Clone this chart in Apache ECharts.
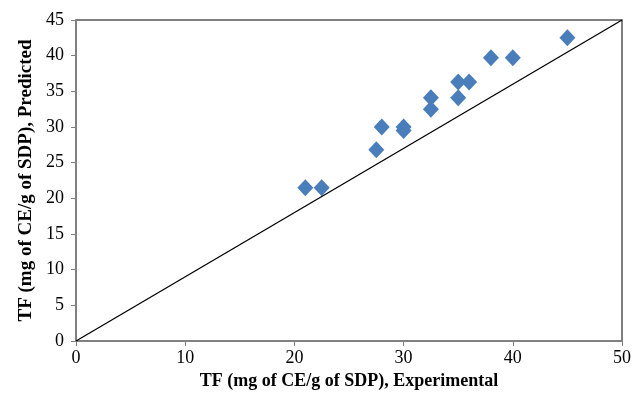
<!DOCTYPE html>
<html style="height: 100%">
   <head>
       <meta charset="utf-8">
   </head>
   <body style="height: 100%; margin: 0; background: #fff">
       <div id="container" style="width: 634px; height: 401px"></div>
       <script type="text/javascript" src="https://cdn.jsdelivr.net/npm/echarts@6/dist/echarts.min.js"></script>
       <script type="text/javascript">
          // experimental vs predicted TF
          var experimental = [21, 22.5, 27.5, 28, 30, 30, 32.5, 32.5, 35, 35, 36, 38, 40, 45];
          var predicted = [21.5, 21.5, 26.8, 30, 30, 29.5, 32.5, 34.1, 34.1, 36.3, 36.3, 39.7, 39.7, 42.5];
          var lineX = [0, 50];
          var lineY = [0, 45];

          var pts = [];
          for (var i = 0; i < experimental.length; i++) {
              pts.push([experimental[i], predicted[i]]);
          }
          var linePts = [[lineX[0], lineY[0]], [lineX[1], lineY[1]]];

          var dom = document.getElementById("container");
          var myChart = echarts.init(dom);
          var font = 'Liberation Serif';

          var option = {
              animation: false,
              grid: {
                  left: 76, right: 10, top: 20, bottom: 60,
                  show: true, borderColor: '#555', borderWidth: 1.5
              },
              xAxis: {
                  type: 'value',
                  min: 0, max: 50, interval: 10,
                  name: 'TF (mg of CE/g of SDP), Experimental',
                  nameLocation: 'middle',
                  nameGap: 29,
                  nameTextStyle: { fontFamily: font, fontWeight: 'bold', fontSize: 18, color: '#000' },
                  axisLine: { lineStyle: { color: '#808080', width: 2 } },
                  axisTick: { show: true, length: 5, lineStyle: { color: '#808080' } },
                  axisLabel: { fontFamily: font, fontSize: 18, color: '#000', margin: 8 },
                  splitLine: { show: false }
              },
              yAxis: {
                  type: 'value',
                  min: 0, max: 45, interval: 5,
                  name: 'TF (mg of CE/g of SDP), Predicted',
                  nameLocation: 'middle',
                  nameGap: 39,
                  nameTextStyle: { fontFamily: font, fontWeight: 'bold', fontSize: 19, color: '#000' },
                  axisLine: { show: true, lineStyle: { color: '#808080', width: 2 } },
                  axisTick: { show: true, length: 5, lineStyle: { color: '#808080' } },
                  axisLabel: { fontFamily: font, fontSize: 18, color: '#000', margin: 12 },
                  splitLine: { show: false }
              },
              series: [{
                  type: 'line',
                  data: linePts,
                  symbol: 'none',
                  lineStyle: { color: '#000', width: 1.3 },
                  silent: true
              }, {
                  type: 'scatter',
                  data: pts,
                  symbol: 'diamond',
                  symbolSize: [16, 17],
                  itemStyle: { color: '#4a7ebb', opacity: 1 }
              }]
          };
          myChart.setOption(option, true);
       </script>
   </body>
</html>
